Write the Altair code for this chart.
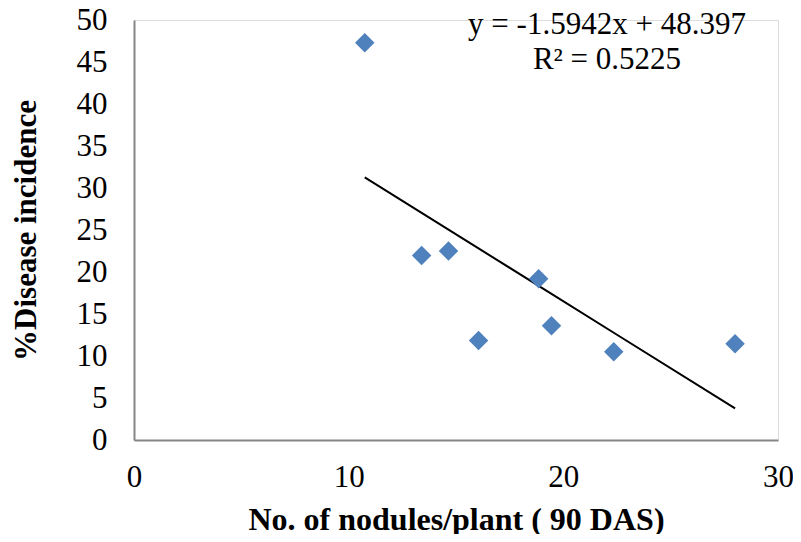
import altair as alt
import pandas as pd

nodules = [10.75, 13.4, 14.65, 16.05, 18.85, 19.45, 22.35, 28.0]
disease = [47.3, 21.95, 22.5, 11.85, 19.2, 13.6, 10.5, 11.45]
slope = -1.5942
intercept = 48.397
eq_lines = ["y = -1.5942x + 48.397", "R² = 0.5225"]

df = pd.DataFrame({"x": nodules, "y": disease})
FONT = "Liberation Serif"
FS = 31

xscale = alt.Scale(domain=[0, 30], nice=False, zero=True)
yscale = alt.Scale(domain=[0, 50], nice=False, zero=True)

points = alt.Chart(df).mark_point(
    shape="diamond", filled=True, size=380, color="#4F81BD", opacity=1
).encode(
    x=alt.X("x:Q", scale=xscale,
            axis=alt.Axis(values=[0, 10, 20, 30], title="No. of nodules/plant ( 90 DAS)",
                          grid=False, ticks=False, domainColor="#868686", domainWidth=2,
                          labelFlush=False,
                          labelFont=FONT, labelFontSize=FS, labelColor="black", labelPadding=22,
                          titleFont=FONT, titleFontSize=32, titleFontWeight="bold",
                          titleColor="black", titlePadding=12)),
    y=alt.Y("y:Q", scale=yscale,
            axis=alt.Axis(values=list(range(0, 51, 5)), title="%Disease incidence",
                          grid=False, ticks=False, domainColor="#868686", domainWidth=2,
                          labelFlush=False,
                          labelFont=FONT, labelFontSize=FS, labelColor="black", labelPadding=27,
                          titleFont=FONT, titleFontSize=FS, titleFontWeight="bold",
                          titleColor="black", titlePadding=34)),
)

trend = alt.Chart(df).transform_calculate(
    fit=f"{slope} * datum.x + {intercept}"
).mark_line(color="black", strokeWidth=2).encode(
    x=alt.X("x:Q", scale=xscale),
    y=alt.Y("fit:Q", scale=yscale),
)

eq1 = alt.Chart(pd.DataFrame({"t": [eq_lines[0]]})).mark_text(
    font=FONT, fontSize=FS, color="black", align="center", baseline="middle"
).encode(x=alt.value(473), y=alt.value(5), text="t:N")

eq2 = alt.Chart(pd.DataFrame({"t": [eq_lines[1]]})).mark_text(
    font=FONT, fontSize=FS, color="black", align="center", baseline="middle"
).encode(x=alt.value(473), y=alt.value(40), text="t:N")

chart = alt.layer(trend, points, eq1, eq2).properties(
    width=644, height=420,
    autosize=alt.AutoSizeParams(type="none"),
    padding={"left": 126, "top": 12, "right": 15, "bottom": 94},
).configure_view(stroke=None).configure(background="white")

chart.save("out.html", embed_options={"renderer": "svg", "actions": False})
